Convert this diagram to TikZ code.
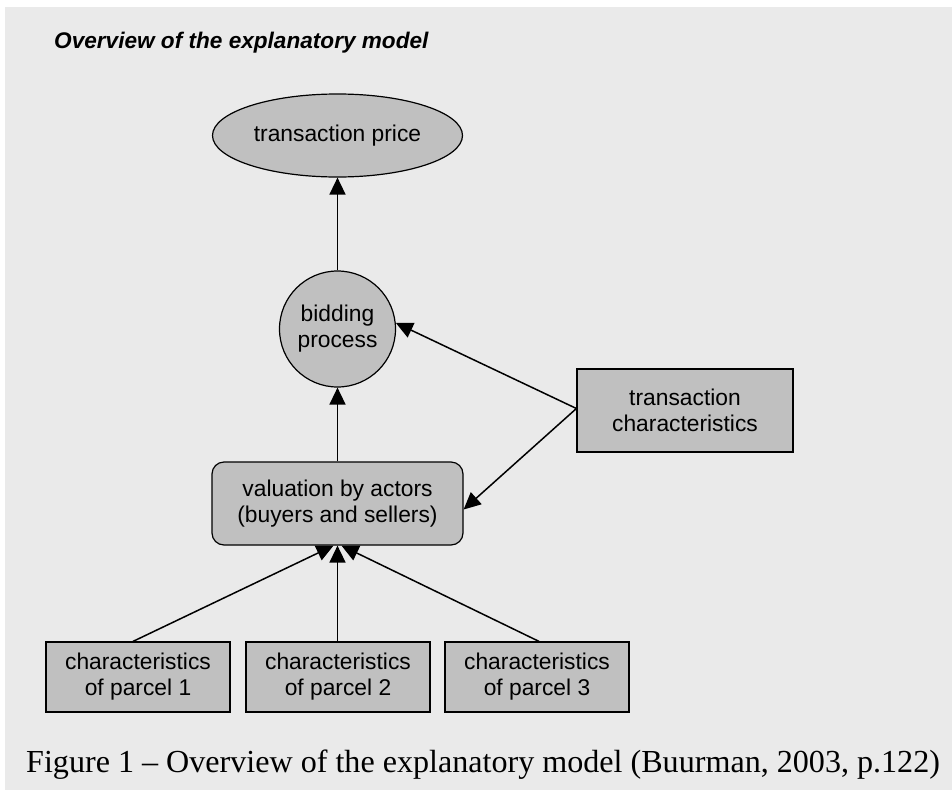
\documentclass[tikz,border=0pt]{standalone}
\usepackage{fontspec}
\setmainfont{Liberation Serif}
\setsansfont{Liberation Sans}
\usetikzlibrary{arrows.meta,shapes.geometric}
\definecolor{bggray}{HTML}{EAEAEA}
\definecolor{nodegray}{HTML}{C0C0C0}
\tikzset{
  base/.style={draw=black, line width=1.2pt, fill=nodegray, inner sep=0pt, align=center,
    font=\sffamily\fontsize{22.8}{26}\selectfont},
  ellnode/.style={base, ellipse, minimum width=250pt, minimum height=83pt},
  circnode/.style={base, circle, minimum size=116pt},
  boxnode/.style={base, rectangle, minimum width=216pt, minimum height=83pt},
  roundnode/.style={base, rectangle, rounded corners=12pt, minimum width=251pt, minimum height=83pt},
  parcel/.style={base, rectangle, minimum width=184pt, minimum height=70pt},
  conn/.style={line width=1.5pt, -{Triangle[length=17pt,width=16pt]}},
}
\begin{document}
\begin{tikzpicture}[x=1pt,y=-1pt]
\useasboundingbox (0,0) rectangle (952,790);
\fill[bggray] (5,7) rectangle (952,790);
\node[anchor=base west, inner sep=0pt, font=\sffamily\bfseries\itshape\fontsize{22.6}{26}\selectfont] (title) at (54,48) {Overview of the explanatory model};
\node[ellnode] (tp) at (337.5,135.5) {transaction price};
\node[circnode] (bp) at (337.5,329) {bidding\\process};
\node[boxnode] (tc) at (685,410.5) {transaction\\characteristics};
\node[roundnode] (val) at (337.5,503.5) {valuation by actors\\(buyers and sellers)};
\node[parcel] (p1) at (138,677) {characteristics\\of parcel 1};
\node[parcel] (p2) at (338,677) {characteristics\\of parcel 2};
\node[parcel] (p3) at (537,677) {characteristics\\of parcel 3};
\draw[conn] (bp) -- (tp);
\draw[conn] (val) -- (bp);
\draw[conn] ([yshift=2pt]tc.west) -- (bp.6);
\draw[conn] ([yshift=2pt]tc.west) -- ([yshift=-6pt]val.east);
\draw[conn] ([xshift=-5pt]p1.north) -- ([xshift=-4pt]val.south);
\draw[conn] (p2.north -| val.south) -- (val.south);
\draw[conn] ([xshift=2pt]p3.north) -- ([xshift=4pt]val.south);
\node[anchor=base west, inner sep=0pt, font=\rmfamily\fontsize{32.1}{36}\selectfont] (cap) at (26,772) {Figure 1 – Overview of the explanatory model (Buurman, 2003, p.122)};
\end{tikzpicture}
\end{document}
